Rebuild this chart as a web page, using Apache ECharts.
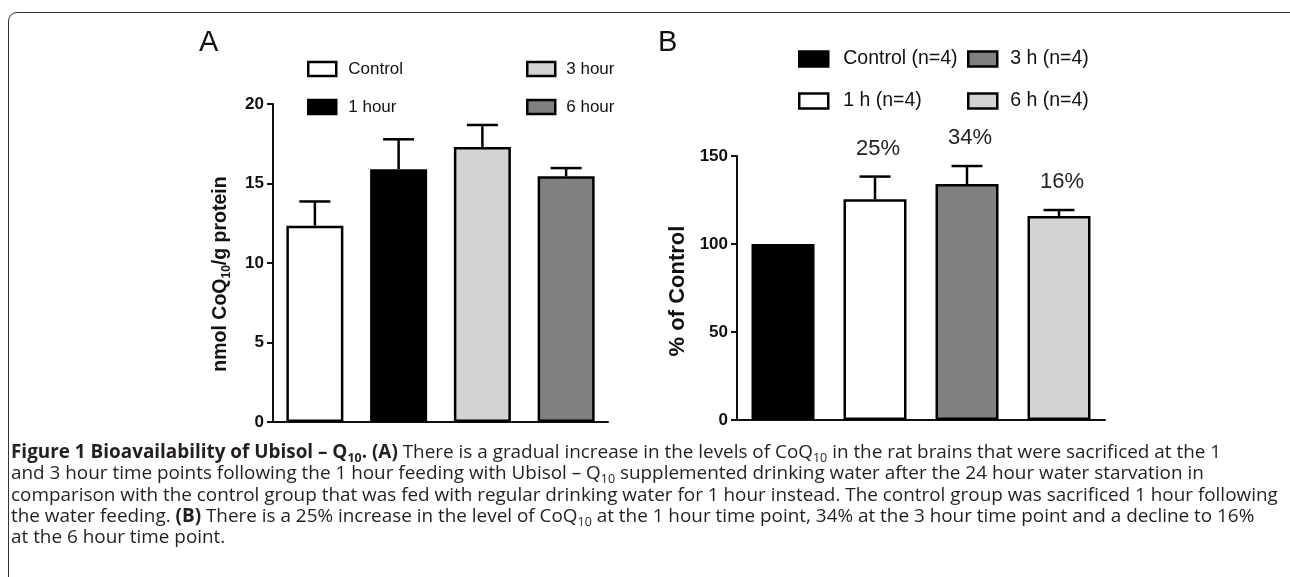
<!DOCTYPE html>
<html>
<head>
<meta charset="utf-8">
<script src="https://cdn.jsdelivr.net/npm/echarts@6/dist/echarts.min.js"></script>
<style>
  html, body { margin: 0; padding: 0; width: 1290px; height: 577px; overflow: hidden; background: #fff; }
  #frame { position: absolute; left: 8px; top: 12px; width: 1310px; height: 700px; border: 1.5px solid #333; border-radius: 9px; box-sizing: border-box; }
  #chart { position: absolute; left: 0; top: 0; width: 1290px; height: 577px; }
  #cap { position: absolute; left: 11px; top: 441px; font-family: "Open Sans", sans-serif; font-size: 18.9px; line-height: 21.3px; color: #231f20; white-space: nowrap; }
  #cap b { font-weight: 700; }
  #cap sub { font-size: 0.66em; vertical-align: -0.3em; line-height: 0; }
</style>
</head>
<body>
<div id="frame"></div>
<div id="chart"></div>
<div id="cap">
  <b>Figure 1 Bioavailability of Ubisol – Q<sub>10</sub>. (A)</b> There is a gradual increase in the levels of CoQ<sub>10</sub> in the rat brains that were sacrificed at the 1<br>
  and 3 hour time points following the 1 hour feeding with Ubisol – Q<sub>10</sub> supplemented drinking water after the 24 hour water starvation in<br>
  comparison with the control group that was fed with regular drinking water for 1 hour instead. The control group was sacrificed 1 hour following<br>
  the water feeding. <b>(B)</b> There is a 25% increase in the level of CoQ<sub>10</sub> at the 1 hour time point, 34% at the 3 hour time point and a decline to 16%<br>
  at the 6 hour time point.
</div>
<script>
// ── panel A: nmol CoQ10 / g protein ──
const catA = ["Control", "1 hour", "3 hour", "6 hour"];
const meanA = [12.35, 15.9, 17.3, 15.45];
const errA = [1.52, 1.88, 1.38, 0.52];
const colorA = ["#ffffff", "#000000", "#d3d3d3", "#808080"];
const legendA1 = ["Control", "1 hour"];
const legendA2 = ["3 hour", "6 hour"];

// ── panel B: % of control ──
const catB = ["Control (n=4)", "1 h (n=4)", "3 h (n=4)", "6 h (n=4)"];
const meanB = [100, 125.4, 134.1, 115.9];
const errB = [0, 12.9, 10.2, 3.4];
const labelB = ["", "25%", "34%", "16%"];
const colorB = ["#000000", "#ffffff", "#808080", "#d3d3d3"];
const legendB1 = ["Control (n=4)", "1 h (n=4)"];
const legendB2 = ["3 h (n=4)", "6 h (n=4)"];

const FONT = "Liberation Sans";
const INK = "#111";

function barSeries(cats, means, colors, gi, w) {
  return cats.map((c, i) => ({
    name: c, type: "bar", xAxisIndex: gi, yAxisIndex: gi,
    barWidth: w, barGap: "-100%", silent: true,
    data: means.map((v, j) => (j === i ? v : null)),
    itemStyle: { color: colors[i], borderColor: "#000", borderWidth: 2.5 },
  }));
}

// upper-only error bar with a cap, plus optional text above it
function errSeries(means, errs, labels, gi) {
  return {
    type: "custom", xAxisIndex: gi, yAxisIndex: gi, silent: true, clip: false, z: 3,
    data: means.map((v, i) => [i, v, v + errs[i]]),
    renderItem(params, api) {
      const i = params.dataIndex;
      const lo = api.coord([api.value(0), api.value(1)]);
      const hi = api.coord([api.value(0), api.value(2)]);
      const kids = [];
      if (errs[i] > 0) {
        const st = { stroke: "#000", lineWidth: 2.5 };
        kids.push({ type: "line", shape: { x1: lo[0], y1: lo[1], x2: hi[0], y2: hi[1] }, style: st });
        kids.push({ type: "line", shape: { x1: hi[0] - 15.5, y1: hi[1], x2: hi[0] + 15.5, y2: hi[1] }, style: st });
      }
      if (labels && labels[i]) {
        kids.push({ type: "text", style: { text: labels[i], x: hi[0] + 3, y: hi[1] - 28,
          align: "center", verticalAlign: "middle", fontSize: 22, fontFamily: FONT, fill: "#222" } });
      }
      return { type: "group", children: kids };
    },
  };
}

function xAx(cats, gi) {
  return {
    gridIndex: gi, type: "category", data: cats,
    axisLine: { lineStyle: { color: INK, width: 2 } },
    axisTick: { alignWithLabel: true, length: 6, lineStyle: { color: INK, width: 2 } },
    axisLabel: { show: false },
  };
}
function yAx(gi, max, step, name, gap, extra) {
  return Object.assign({
    gridIndex: gi, type: "value", min: 0, max, interval: step,
    splitLine: { show: false },
    axisLine: { show: true, lineStyle: { color: INK, width: 2 } },
    axisTick: { show: true, length: 6, lineStyle: { color: INK, width: 2 } },
    axisLabel: { color: INK, fontFamily: FONT, fontWeight: "bold", fontSize: 17, margin: 9 },
    name, nameLocation: "middle", nameRotate: 90, nameGap: gap,
  }, extra);
}
function legend(names, left, top, fs, pad, w, h, gap, lh) {
  return {
    data: names, left, top, orient: "vertical", padding: 0, itemGap: gap,
    itemWidth: w, itemHeight: h, icon: "rect", selectedMode: false,
    itemStyle: { borderColor: "#000", borderWidth: 2.5 },
    textStyle: { color: INK, fontFamily: FONT, fontSize: fs, lineHeight: lh, padding: [0, 0, 0, pad] },
  };
}

const chart = echarts.init(document.getElementById("chart"), null, { renderer: "canvas" });
chart.setOption({
  backgroundColor: "transparent",
  animation: false,
  grid: [
    { left: 273, top: 104, width: 335, height: 318 },
    { left: 737, top: 156, width: 368, height: 264 },
  ],
  xAxis: [xAx(catA, 0), xAx(catB, 1)],
  yAxis: [
    yAx(0, 20, 5, "{b|nmol CoQ}{s|10}{b|/g protein}", 40, {
      nameTextStyle: { padding: [0, 22, 0, 0], rich: {
        b: { fontFamily: FONT, fontWeight: "bold", fontSize: 19.5, color: INK, lineHeight: 24 },
        s: { fontFamily: FONT, fontWeight: "bold", fontSize: 12, color: INK, lineHeight: 10, verticalAlign: "bottom" },
      } },
    }),
    yAx(1, 150, 50, "% of Control", 48, {
      nameTextStyle: { fontFamily: FONT, fontWeight: "bold", fontSize: 22, color: INK, padding: [0, 6, 0, 0] },
    }),
  ],
  legend: [
    legend(legendA1, 307, 60, 17, 7, 28, 14, 20, 18),
    legend(legendA2, 526, 60, 17, 6, 28, 14, 20, 18),
    legend(legendB1, 798, 49, 19.5, 10, 29, 15, 22, 20),
    legend(legendB2, 967, 49, 19.5, 8, 29, 15, 22, 20),
  ],
  graphic: [
    { type: "text", left: 199, top: 28, style: { text: "A", fontSize: 29, fontFamily: FONT, fill: INK } },
    { type: "text", left: 658, top: 28, style: { text: "B", fontSize: 29, fontFamily: FONT, fill: INK } },
  ],
  series: [
    ...barSeries(catA, meanA, colorA, 0, 57),
    errSeries(meanA, errA, null, 0),
    ...barSeries(catB, meanB, colorB, 1, 63),
    errSeries(meanB, errB, labelB, 1),
  ],
});
</script>
</body>
</html>
